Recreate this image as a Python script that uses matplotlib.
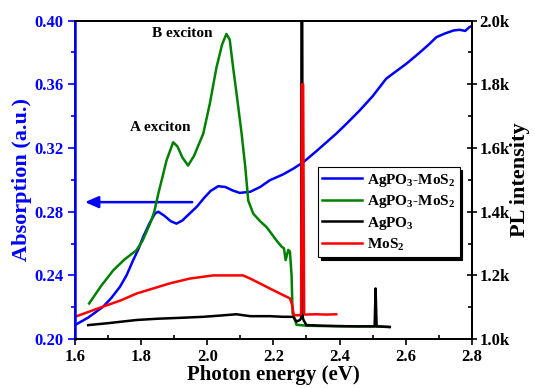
import matplotlib
matplotlib.use('Agg')
import matplotlib.pyplot as plt
from matplotlib.ticker import MultipleLocator

plt.rcParams['font.family'] = ['Liberation Serif', 'DejaVu Serif']
plt.rcParams['font.weight'] = 'bold'
plt.rcParams['mathtext.fontset'] = 'custom'
plt.rcParams['mathtext.rm'] = 'Liberation Serif:bold'
plt.rcParams['mathtext.it'] = 'Liberation Serif:bold'
plt.rcParams['mathtext.bf'] = 'Liberation Serif:bold'

# absorption of AgPO3-MoS2 (left axis)
abs_e = [1.600, 1.640, 1.685, 1.710, 1.736, 1.756, 1.776, 1.792, 1.806, 1.825, 1.842, 1.852,
         1.870, 1.890, 1.907, 1.925, 1.945, 1.968, 1.990, 2.010, 2.033, 2.055, 2.075, 2.098,
         2.130, 2.160, 2.189, 2.230, 2.260, 2.290, 2.330, 2.360, 2.390, 2.420, 2.461, 2.500,
         2.541, 2.570, 2.602, 2.640, 2.670, 2.693, 2.720, 2.745, 2.763, 2.780, 2.793, 2.800]
abs_v = [0.2088, 0.2135, 0.2203, 0.2258, 0.2328, 0.2400, 0.2495, 0.2565, 0.2640, 0.2725, 0.2788, 0.2800,
         0.2775, 0.2740, 0.2725, 0.2745, 0.2785, 0.2830, 0.2885, 0.2930, 0.2960, 0.2955, 0.2935, 0.2918,
         0.2925, 0.2955, 0.2997, 0.3035, 0.3070, 0.3110, 0.3180, 0.3235, 0.3290, 0.3350, 0.3436, 0.3525,
         0.3635, 0.3680, 0.3729, 0.3795, 0.3850, 0.3896, 0.3920, 0.3938, 0.3942, 0.3935, 0.3960, 0.3965]

# PL of AgPO3-MoS2 (right axis)
grn_e = [1.643, 1.680, 1.716, 1.750, 1.786, 1.805, 1.827, 1.840, 1.852, 1.865, 1.877, 1.897,
         1.910, 1.925, 1.942, 1.960, 1.988, 2.008, 2.028, 2.045, 2.058, 2.068, 2.078, 2.090,
         2.104, 2.115, 2.124, 2.139, 2.160, 2.179, 2.195, 2.209, 2.225, 2.232, 2.237, 2.245,
         2.250, 2.255, 2.258, 2.270, 2.300, 2.400, 2.500, 2.550]
grn_v = [1112, 1168, 1216, 1250, 1279, 1310, 1362, 1400, 1456, 1510, 1561, 1618,
         1605, 1570, 1545, 1575, 1645, 1740, 1853, 1925, 1958, 1940, 1855, 1760,
         1645, 1540, 1435, 1394, 1370, 1352, 1330, 1310, 1290, 1285, 1248, 1280,
         1275, 1200, 1082, 1045, 1042, 1040, 1040, 1038]

# PL of AgPO3
blk_e = [1.640, 1.700, 1.786, 1.850, 1.900, 1.988, 2.040, 2.088, 2.130, 2.189, 2.230, 2.260,
         2.270, 2.280, 2.284, 2.285, 2.287, 2.289, 2.292, 2.300, 2.350, 2.400, 2.450, 2.500,
         2.506, 2.509, 2.512, 2.520, 2.552]
blk_v = [1044, 1050, 1060, 1064, 1066, 1070, 1074, 1078, 1072, 1072, 1070, 1070,
         1055, 1060, 1066, 2100, 2100, 1066, 1058, 1044, 1042, 1041, 1040, 1040,
         1040, 1159, 1040, 1040, 1038]

# PL of MoS2
red_e = [1.600, 1.640, 1.685, 1.740, 1.786, 1.840, 1.887, 1.947, 2.018, 2.060, 2.108, 2.130,
         2.159, 2.189, 2.220, 2.250, 2.256, 2.262, 2.280, 2.284, 2.286, 2.290, 2.293, 2.296,
         2.330, 2.360, 2.390]
red_v = [1070, 1085, 1102, 1122, 1143, 1160, 1175, 1190, 1200, 1200, 1200, 1190,
         1175, 1159, 1143, 1128, 1110, 1075, 1075, 1080, 1800, 1800, 1080, 1077,
         1078, 1077, 1078]

x_ticks = [1.6, 1.8, 2.0, 2.2, 2.4, 2.6, 2.8]
left_ticks = [0.20, 0.24, 0.28, 0.32, 0.36, 0.40]
right_ticks = [1000, 1200, 1400, 1600, 1800, 2000]
right_labels = ['1.0k', '1.2k', '1.4k', '1.6k', '1.8k', '2.0k']

blue = '#0000ff'
fig = plt.figure(figsize=(5.35, 3.88), dpi=100)
ax = fig.add_axes([0.140, 0.126, 0.742, 0.821])
ax2 = ax.twinx()

l1, = ax.plot(abs_e, abs_v, color=blue, lw=1.8, label='AgPO$_3$-MoS$_2$')
l2, = ax2.plot(grn_e, grn_v, color='#008000', lw=1.8, label='AgPO$_3$-MoS$_2$')
l3, = ax2.plot(blk_e, blk_v, color='black', lw=1.8, label='AgPO$_3$')
l4, = ax2.plot(red_e, red_v, color='#ff0000', lw=1.8, label='MoS$_2$')

ax.set_xlim(1.6, 2.8)
ax.set_ylim(0.20, 0.40)
ax2.set_ylim(1000, 2000)

ax.set_xticks(x_ticks)
ax.set_xticklabels([f'{v:.1f}' for v in x_ticks])
ax.xaxis.set_minor_locator(MultipleLocator(0.1))
ax.set_yticks(left_ticks)
ax.set_yticklabels([f'{v:.2f}' for v in left_ticks])
ax.yaxis.set_minor_locator(MultipleLocator(0.02))
ax2.set_yticks(right_ticks)
ax2.set_yticklabels(right_labels)
ax2.yaxis.set_minor_locator(MultipleLocator(100))

ax.tick_params(axis='x', which='major', direction='out', length=4, width=1.2, labelsize=12, pad=3)
ax.tick_params(axis='x', which='minor', direction='in', length=3, width=1.2)
ax.tick_params(axis='y', which='both', direction='out', colors=blue, width=1.2, labelsize=12, pad=3)
ax.tick_params(axis='y', which='major', length=5)
ax.tick_params(axis='y', which='minor', length=3)
ax2.tick_params(axis='y', which='major', direction='inout', length=7, width=1.2, labelsize=12, pad=2)
ax2.tick_params(axis='y', which='minor', direction='in', length=3, width=1.2)

for a in (ax, ax2):
    for s in a.spines.values():
        s.set_linewidth(1.3)
ax2.spines['left'].set_color(blue)
ax2.spines['left'].set_linewidth(1.8)

ax.set_xlabel('Photon energy (eV)', fontsize=15, fontweight='bold', labelpad=0)
ax.set_ylabel('Absorption (a.u.)', fontsize=16, fontweight='bold', color=blue, labelpad=2)
ax2.set_ylabel('PL intensity', fontsize=16, fontweight='bold', labelpad=0)

ax.annotate('', xy=(1.622, 0.286), xytext=(1.963, 0.286),
            arrowprops=dict(arrowstyle='-|>,head_length=0.8,head_width=0.35', color=blue, lw=1.8))
ax.text(1.925, 0.392, 'B exciton', ha='center', va='center', fontsize=11, fontweight='bold')
ax.text(1.857, 0.333, 'A exciton', ha='center', va='center', fontsize=11, fontweight='bold')

leg = ax2.legend(handles=[l1, l2, l3, l4], loc='upper left', bbox_to_anchor=(0.612, 0.54),
                 fontsize=11, frameon=True, fancybox=False, handlelength=2.6,
                 borderpad=0.3, labelspacing=0.3, handletextpad=0.3, borderaxespad=0,
                 shadow={'color': 'black', 'alpha': 1.0})
leg.get_frame().set_edgecolor('black')
leg.get_frame().set_linewidth(0.8)

fig.savefig('out.png', dpi=100)
